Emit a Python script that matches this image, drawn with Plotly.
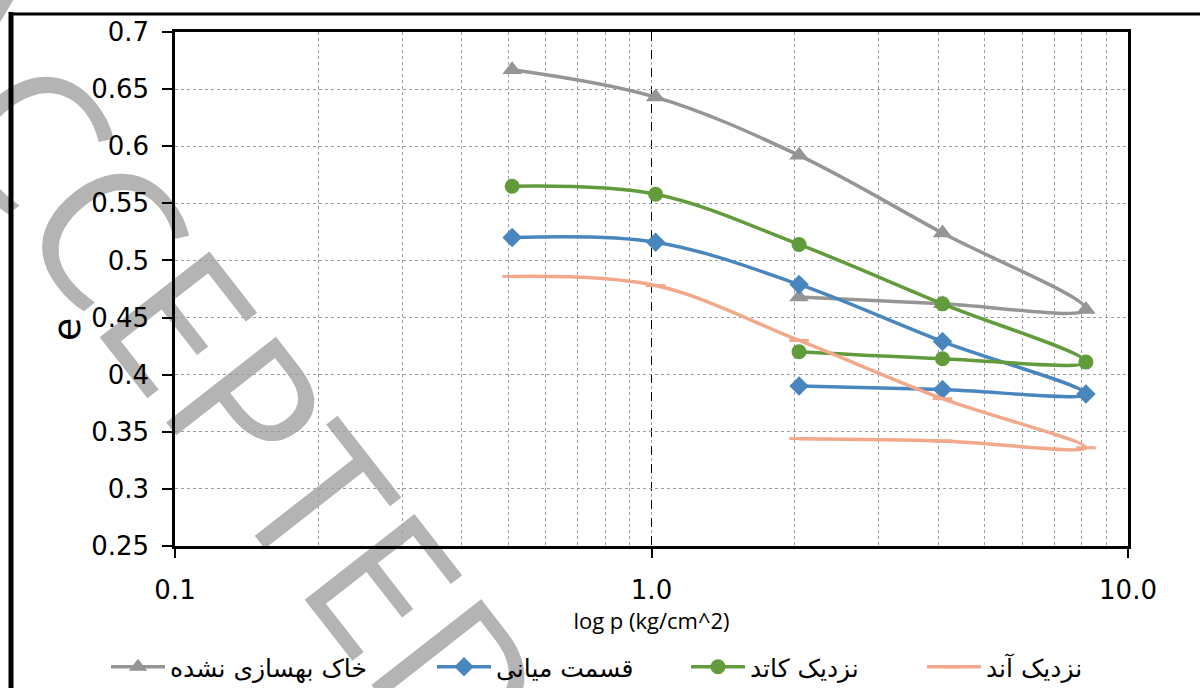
import plotly.graph_objects as go

# Consolidation test: applied pressure (kg/cm^2), loading then unloading
pressure = [0.51, 1.02, 2.04, 4.08, 8.16, 4.08, 2.04]

# Void ratio e for each sample
e_untreated = [0.667, 0.643, 0.592, 0.524, 0.457, 0.462, 0.468]
e_middle = [0.520, 0.516, 0.479, 0.429, 0.383, 0.387, 0.390]
e_cathode = [0.565, 0.558, 0.514, 0.462, 0.411, 0.414, 0.420]
e_anode = [0.486, 0.478, 0.430, 0.379, 0.336, 0.342, 0.344]

series_names = ["خاک بهسازی نشده", "قسمت میانی", "نزدیک کاتد", "نزدیک آند"]

y_tick_vals = [0.25, 0.3, 0.35, 0.4, 0.45, 0.5, 0.55, 0.6, 0.65, 0.7]
y_tick_text = ["0.25", "0.3", "0.35", "0.4", "0.45", "0.5", "0.55", "0.6", "0.65", "0.7"]
x_tick_vals = [0.1, 1, 10]
x_tick_text = ["0.1", "1.0", "10.0"]

GRAY = "#959595"
BLUE = "#4a86be"
GREEN = "#619b3b"
ORANGE = "#f2a88a"
GRID = "#9d9d9d"

W, H = 1200, 688
ML, MR, MT, MB = 175, 72, 32, 142
PW, PH = W - ML - MR, H - MT - MB


def px_x(p):
    return (p - ML) / PW


def px_y(p):
    return (H - MB - p) / PH


fig = go.Figure()

styles = [
    (e_untreated, GRAY, dict(symbol="triangle-up", size=17, color=GRAY)),
    (e_middle, BLUE, dict(symbol="diamond", size=15, color=BLUE)),
    (e_cathode, GREEN, dict(symbol="circle", size=15, color=GREEN)),
    (e_anode, ORANGE, dict(symbol="line-ew", size=14, color=ORANGE,
                           line=dict(color=ORANGE, width=3))),
]
legend_ids = ["legend", "legend2", "legend3", "legend4"]

for (yvals, color, marker), name, lg in zip(styles, series_names, legend_ids):
    fig.add_trace(go.Scatter(
        x=pressure, y=yvals, name=name, mode="lines+markers",
        line=dict(color=color, width=3.5, shape="spline", smoothing=1.0),
        marker=marker, legend=lg,
    ))

legend_font = dict(family="DejaVu Sans", size=25, color="#000000")
legend_x_px = [106, 432, 686, 922]
legend_cfg = {}
for lg, xp in zip(legend_ids, legend_x_px):
    legend_cfg[lg] = dict(
        x=px_x(xp), y=px_y(667), xanchor="left", yanchor="middle",
        orientation="h", font=legend_font, bgcolor="rgba(0,0,0,0)",
        borderwidth=0, itemwidth=54,
    )

axis_font = dict(family="DejaVu Sans", size=26, color="#000000")

fig.update_layout(
    width=W, height=H,
    margin=dict(l=ML, r=MR, t=MT, b=MB, autoexpand=False),
    paper_bgcolor="white",
    plot_bgcolor="rgba(0,0,0,0)",
    showlegend=True,
    **legend_cfg,
    xaxis=dict(
        type="log", range=[-1, 1],
        tickvals=x_tick_vals, ticktext=x_tick_text,
        tickfont=axis_font, ticks="outside", ticklen=9, tickwidth=1.5,
        tickcolor="#000000", ticklabelstandoff=10,
        showline=True, linecolor="#000000", linewidth=2.5, mirror=True,
        showgrid=True, gridcolor="#000000", griddash="dash", gridwidth=1,
        minor=dict(dtick="D1", showgrid=True, gridcolor=GRID, griddash="dot",
                   gridwidth=1, ticks=""),
        zeroline=False,
        title=dict(text="log p (kg/cm^2)", standoff=8,
                   font=dict(family="Open Sans", size=22, color="#000000")),
    ),
    yaxis=dict(
        range=[0.25, 0.7],
        tickvals=y_tick_vals, ticktext=y_tick_text,
        tickfont=axis_font, ticks="outside", ticklen=10, tickwidth=1.5,
        tickcolor="#000000", ticklabelstandoff=8,
        showline=True, linecolor="#000000", linewidth=2.5, mirror=True,
        showgrid=True, gridcolor=GRID, griddash="dot", gridwidth=1,
        zeroline=False,
    ),
    annotations=[
        # y-axis title, sitting low beside the tick labels
        dict(text="e", xref="paper", yref="paper",
             x=px_x(67), y=px_y(330), xanchor="center", yanchor="middle",
             textangle=-90, showarrow=False,
             font=dict(family="DejaVu Sans", size=38, color="#000000")),
    ],
    shapes=[
        # diagonal stamp behind the chart
        dict(type="rect", xref="paper", yref="paper",
             x0=px_x(203) - 0.01, x1=px_x(203) + 0.01,
             y0=px_y(368) - 0.01, y1=px_y(368) + 0.01,
             line=dict(width=0), fillcolor="rgba(0,0,0,0)", layer="below",
             label=dict(text="ACCEPTED", textangle=52,
                        textposition="middle center",
                        font=dict(family="Open Sans", size=195, weight=420,
                                  color="#b4b4b4"))),
        # page frame: left and top edges
        dict(type="line", xref="paper", yref="paper",
             x0=px_x(11), x1=px_x(11), y0=px_y(12), y1=px_y(H + 10),
             line=dict(color="#000000", width=5)),
        dict(type="line", xref="paper", yref="paper",
             x0=px_x(9), x1=px_x(W + 10), y0=px_y(14), y1=px_y(14),
             line=dict(color="#000000", width=3)),
    ],
)

fig.write_html("out.html")
